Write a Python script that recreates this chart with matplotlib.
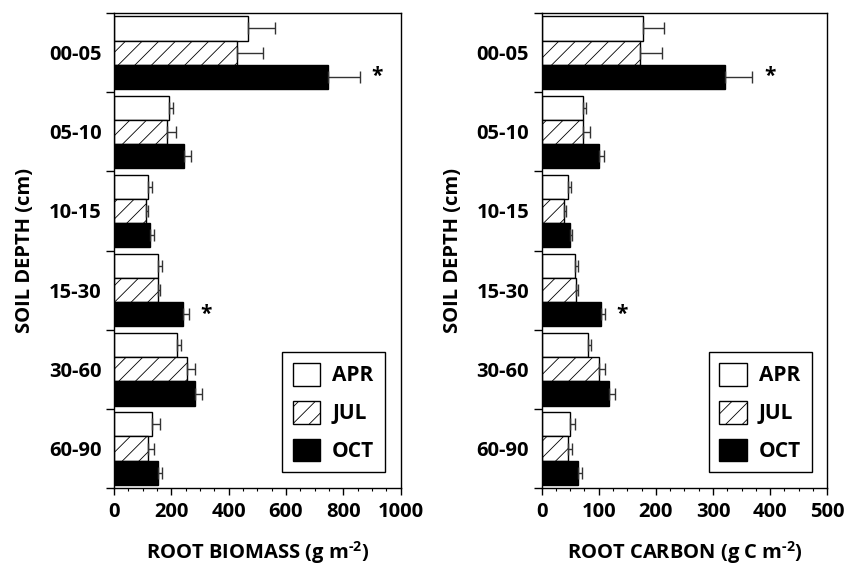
import numpy as np
import matplotlib.pyplot as plt
from matplotlib.patches import Patch
from matplotlib.ticker import MultipleLocator

plt.rcParams['font.family'] = ['Open Sans', 'DejaVu Sans']
plt.rcParams['font.weight'] = 'bold'
plt.rcParams['mathtext.fontset'] = 'custom'
plt.rcParams['mathtext.rm'] = 'Open Sans:bold'
plt.rcParams['mathtext.bf'] = 'Open Sans:bold'
plt.rcParams['mathtext.default'] = 'rm'
plt.rcParams['hatch.linewidth'] = 0.6
plt.rcParams['hatch.color'] = '#555555'

depths = ['00-05', '05-10', '10-15', '15-30', '30-60', '60-90']
months = ['APR', 'JUL', 'OCT']

# root biomass (g m-2): bar means and upper error bar lengths
bio_apr = [466, 190, 120, 155, 221, 134]
bio_jul = [428, 186, 110, 152, 254, 118]
bio_oct = [746, 245, 126, 242, 281, 153]
bio_apr_err = [95, 16, 13, 14, 11, 27]
bio_jul_err = [93, 30, 8, 9, 30, 20]
bio_oct_err = [112, 23, 13, 20, 26, 14]

# root carbon (g C m-2)
carb_apr = [177, 72, 46, 59, 82, 49]
carb_jul = [172, 73, 39, 61, 100, 47]
carb_oct = [321, 101, 49, 104, 118, 63]
carb_apr_err = [38, 5, 5, 4, 4, 9]
carb_jul_err = [38, 11, 4, 3, 11, 6]
carb_oct_err = [48, 9, 4, 7, 10, 7]

# depth layers with a significant difference (asterisk on OCT bar)
signif = ['00-05', '15-30']

fig = plt.figure(figsize=(8.45, 5.65), dpi=100)
ax1 = fig.add_axes([0.135, 0.136, 0.339, 0.841])
ax2 = fig.add_axes([0.641, 0.136, 0.338, 0.841])

styles = [dict(facecolor='white', hatch=None),
          dict(facecolor='white', hatch='//'),
          dict(facecolor='black', hatch=None)]
h = 0.305
fs = 14.5


def panel(ax, vals, errs, xmax, major, minor, xlabel):
    y = np.arange(len(depths))
    for k, (v, e) in enumerate(zip(vals, errs)):
        yy = y + (k - 1) * h
        ax.barh(yy, v, height=h, color=styles[k]['facecolor'],
                hatch=styles[k]['hatch'], edgecolor='black', linewidth=1.0)
        ax.errorbar(v, yy, xerr=[np.zeros(len(v)), e], fmt='none',
                    ecolor='#333333', elinewidth=1.0, capsize=4, capthick=1.0)
    for d in signif:
        i = depths.index(d)
        xs = vals[2][i] + errs[2][i] + 0.06 * xmax
        ax.text(xs, i + h, '*', ha='center', va='center', fontsize=15,
                fontweight='bold')
    ax.set_xlim(0, xmax)
    ax.set_ylim(len(depths) - 0.5, -0.5)
    ax.xaxis.set_major_locator(MultipleLocator(major))
    ax.xaxis.set_minor_locator(MultipleLocator(minor))
    ax.tick_params(axis='x', which='major', direction='out', length=5,
                   width=1, labelsize=fs, pad=5)
    ax.tick_params(axis='x', which='minor', direction='out', length=2.5, width=0.8)
    ax.set_yticks(np.arange(len(depths) + 1) - 0.5)
    ax.set_yticklabels([])
    ax.set_yticks(np.arange(len(depths)), minor=True)
    ax.set_yticklabels(depths, minor=True)
    ax.tick_params(axis='y', which='major', direction='out', length=6, width=1)
    ax.tick_params(axis='y', which='minor', length=0, labelsize=fs, pad=9)
    for s in ax.spines.values():
        s.set_linewidth(1.0)
    ax.set_xlabel(xlabel, fontsize=fs, fontweight='bold', labelpad=12)
    ax.set_ylabel('SOIL DEPTH (cm)', fontsize=fs, fontweight='bold', labelpad=10)
    handles = [Patch(facecolor=styles[k]['facecolor'], hatch=styles[k]['hatch'],
                     edgecolor='black', linewidth=1.0) for k in range(3)]
    leg = ax.legend(handles, months, loc='lower right',
                    bbox_to_anchor=(0.945, 0.033), fontsize=15,
                    handlelength=1.3, handleheight=1.3, labelspacing=0.7,
                    handletextpad=0.6, borderpad=0.5, borderaxespad=0,
                    fancybox=False, framealpha=1, edgecolor='black')
    leg.get_frame().set_linewidth(1.0)


panel(ax1, [bio_apr, bio_jul, bio_oct], [bio_apr_err, bio_jul_err, bio_oct_err],
      1000, 200, 50, 'ROOT BIOMASS (g m$^{\\text{-2}}$)')
panel(ax2, [carb_apr, carb_jul, carb_oct], [carb_apr_err, carb_jul_err, carb_oct_err],
      500, 100, 25, 'ROOT CARBON (g C m$^{\\text{-2}}$)')

plt.savefig('out.png', dpi=100)
